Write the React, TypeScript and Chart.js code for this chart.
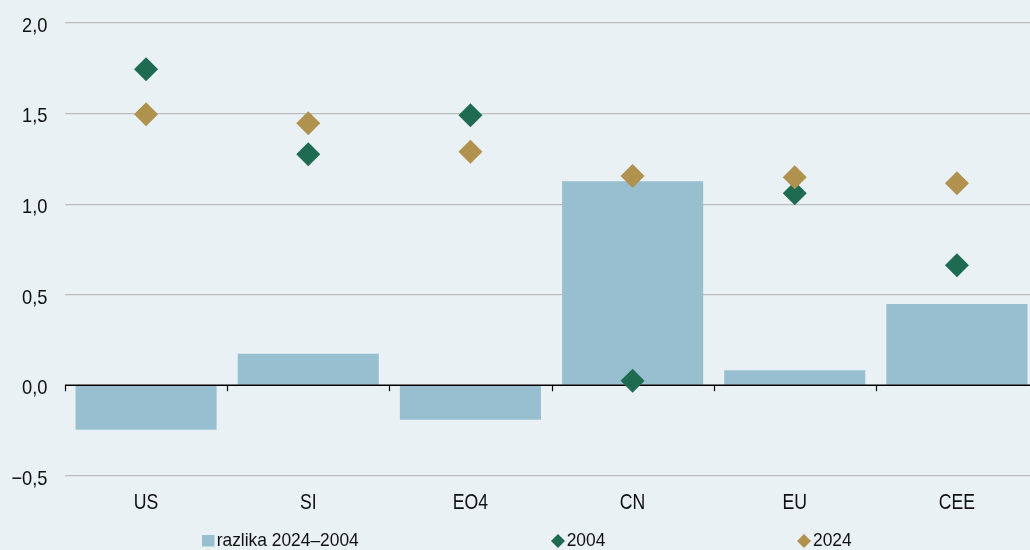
import React, { useEffect, useRef } from "react";
import { Chart, registerables } from "chart.js";

Chart.register(...registerables);

const categories = ["US", "SI", "EO4", "CN", "EU", "CEE"];
const diffValues = [-0.245, 0.174, -0.19, 1.127, 0.083, 0.449];
const values2004 = [1.745, 1.276, 1.491, 0.026, 1.061, 0.663];
const values2024 = [1.497, 1.447, 1.29, 1.155, 1.149, 1.115];
const yTickValues = [-0.5, 0, 0.5, 1, 1.5, 2];
const legendLabels = ["razlika 2024–2004", "2004", "2024"];

const BG = "#e9f1f5";
const BAR = "#98bfcf";
const GREEN = "#1f6b52";
const GOLD = "#b0914e";
const TEXT = "#111";
const FONT = "'Liberation Sans', Arial, sans-serif";

const fmt = (v: number) => {
  const s = Math.abs(v).toFixed(1).replace(".", ",");
  return v < 0 ? "−" + s : s;
};

function drawScaledText(ctx: any, text: string, x: number, y: number, size: number, sx: number, align: string) {
  ctx.save();
  ctx.translate(x, y);
  ctx.scale(sx, 1);
  ctx.font = `${size}px ${FONT}`;
  ctx.fillStyle = TEXT;
  ctx.textAlign = align;
  ctx.textBaseline = "alphabetic";
  ctx.fillText(text, 0, 0);
  ctx.restore();
}

const zeroLinePlugin = {
  id: "zeroLine",
  afterDatasetDraw(chart: any, args: any) {
    if (args.index !== 0) return;
    const { ctx, chartArea } = chart;
    const y = Math.round(chart.scales.y.getPixelForValue(0)) + 0.25;
    const n = categories.length;
    const step = (chartArea.right - chartArea.left) / n;
    ctx.save();
    ctx.strokeStyle = "#000";
    ctx.lineWidth = 1.5;
    ctx.beginPath();
    ctx.moveTo(chartArea.left, y);
    ctx.lineTo(chartArea.right, y);
    ctx.stroke();
    ctx.lineWidth = 1.2;
    for (let i = 0; i <= n; i++) {
      const x = Math.round(chartArea.left + i * step) + 0.5;
      ctx.beginPath();
      ctx.moveTo(x, y);
      ctx.lineTo(x, y + 6);
      ctx.stroke();
    }
    ctx.restore();
  },
};

const labelsPlugin = {
  id: "condensedLabels",
  afterDraw(chart: any) {
    const { ctx, chartArea } = chart;
    const xs = chart.scales.x;
    const ys = chart.scales.y;
    // y tick labels
    yTickValues.forEach((v) => {
      const py = ys.getPixelForValue(v);
      drawScaledText(ctx, fmt(v), chartArea.left - 17.5, py + 8.7, 21, 0.87, "right");
    });
    // x category labels
    categories.forEach((c, i) => {
      const px = xs.getPixelForValue(i);
      drawScaledText(ctx, c, px, chartArea.bottom + 33, 21.5, 0.82, "center");
    });
    // legend
    const base = 546.3;
    ctx.save();
    ctx.fillStyle = BAR;
    ctx.fillRect(202, 535, 12.5, 11.5);
    const diamond = (cx: number, cy: number, r: number, color: string) => {
      ctx.fillStyle = color;
      ctx.beginPath();
      ctx.moveTo(cx - r, cy);
      ctx.lineTo(cx, cy - r);
      ctx.lineTo(cx + r, cy);
      ctx.lineTo(cx, cy + r);
      ctx.closePath();
      ctx.fill();
    };
    diamond(558, 541, 7, GREEN);
    diamond(804, 541, 7, GOLD);
    ctx.restore();
    drawScaledText(ctx, legendLabels[0], 216.7, base, 19, 0.915, "left");
    drawScaledText(ctx, legendLabels[1], 566.7, base, 19, 0.915, "left");
    drawScaledText(ctx, legendLabels[2], 813, base, 19, 0.915, "left");
  },
};

export default function App() {
  const ref = useRef<HTMLCanvasElement>(null);
  useEffect(() => {
    const chart = new Chart(ref.current as HTMLCanvasElement, {
      type: "bar",
      data: {
        labels: categories,
        datasets: [
          {
            type: "bar",
            label: legendLabels[0],
            data: diffValues,
            backgroundColor: BAR,
            borderWidth: 0,
            categoryPercentage: 0.87,
            barPercentage: 1,
            order: 3,
          },
          {
            type: "line",
            label: legendLabels[1],
            data: values2004,
            showLine: false,
            pointStyle: "rectRot",
            pointRadius: 12,
            pointBackgroundColor: GREEN,
            pointBorderWidth: 0,
            borderColor: GREEN,
            order: 2,
          },
          {
            type: "line",
            label: legendLabels[2],
            data: values2024,
            showLine: false,
            pointStyle: "rectRot",
            pointRadius: 12,
            pointBackgroundColor: GOLD,
            pointBorderWidth: 0,
            borderColor: GOLD,
            order: 1,
          },
        ],
      },
      options: {
        responsive: false,
        animation: false,
        layout: { padding: { top: 23, right: 12, bottom: 0, left: 0 } },
        plugins: { legend: { display: false }, tooltip: { enabled: false } },
        scales: {
          x: {
            grid: { display: false, drawTicks: false },
            border: { display: false },
            ticks: { display: false },
            afterFit: (s: any) => {
              s.height = 74;
            },
          },
          y: {
            min: -0.5,
            max: 2,
            afterBuildTicks: (s: any) => {
              s.ticks = yTickValues.map((v) => ({ value: v }));
            },
            grid: {
              drawTicks: false,
              color: (c: any) => (c.tick && c.tick.value === 0 ? "rgba(0,0,0,0)" : "#bdbdbd"),
              lineWidth: 1.3,
            },
            border: { display: false },
            ticks: { display: false },
            afterFit: (s: any) => {
              s.width = 65;
            },
          },
        },
      },
      plugins: [zeroLinePlugin, labelsPlugin],
    });
    return () => chart.destroy();
  }, []);

  return (
    <div
      style={{
        position: "fixed",
        left: 0,
        top: 0,
        width: 1030,
        height: 550,
        overflow: "hidden",
        background: BG,
      }}
    >
      <canvas ref={ref} width={1050} height={550} style={{ display: "block", width: 1050, height: 550 }} />
    </div>
  );
}
